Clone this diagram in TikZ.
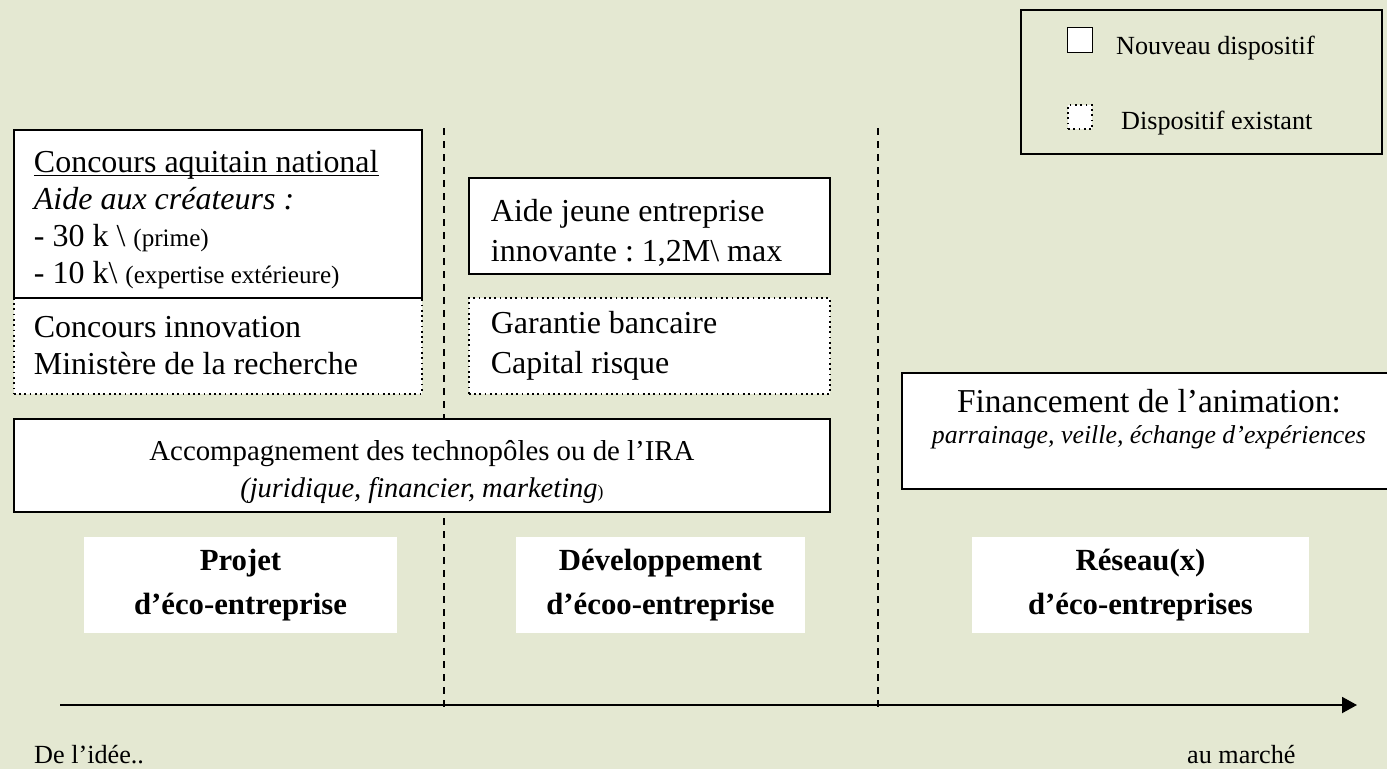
\documentclass[tikz,border=0pt]{standalone}
\usepackage{fontspec}
\setmainfont{Liberation Serif}
\usetikzlibrary{positioning, arrows.meta}
\definecolor{paper}{RGB}{228,232,210}
\newcommand{\boxtxt}{\fontsize{18.2}{21}\selectfont\frenchspacing}
\newcommand{\smalltxt}{\fontsize{14.3}{21}\selectfont}
\newcommand{\lowstrut}[1]{\rule[-#1]{0pt}{#1}}
\newcommand{\highstrut}[1]{\rule{0pt}{#1}}
\newcommand{\titleline}[1]{\setbox0\hbox{#1}\rlap{\rule[-2.2pt]{\wd0}{0.8pt}}\box0}

\begin{document}
\begin{tikzpicture}[x=0.02cm, y=-0.02cm]
  \tikzstyle{box}=[anchor=north west, fill=white, inner ysep=0, align=flush left, font=\boxtxt]
  \tikzstyle{new-box}=[box, draw, line width=1.1pt]
  \tikzstyle{old-box}=[box, draw, dotted, line width=1pt]
  \tikzstyle{phase}=[fill=white, align=flush center, minimum height=1.92cm, font=\fontsize{17.5}{25}\selectfont\bfseries]
  \tikzstyle{legend-txt}=[anchor=west, font=\fontsize{14.9}{18}\selectfont]
  \tikzstyle{step-line}=[line width=1pt, dash pattern=on 4pt off 3.4pt]

  % page and background
  \useasboundingbox (0,0) rectangle (1387,769);
  \fill [paper] (0,0) rectangle (1387,769);

  % phase separators
  \coordinate (sep-1-top) at (444,128);
  \coordinate (sep-1-bot) at (444,712);
  \coordinate (sep-2-top) at (878,128);
  \coordinate (sep-2-bot) at (878,712);
  \draw [step-line] (sep-1-top) -- (sep-1-bot);
  \draw [step-line] (sep-2-top) -- (sep-2-bot);

  % legend
  \node [draw, line width=1.1pt, anchor=north west, minimum width=7.22cm, minimum height=2.88cm] (legend) at (1020,9) {};
  \node [draw, fill=white, line width=1.1pt, minimum size=0.5cm, inner sep=0] (leg-new) at (1080,40) {};
  \node [draw, fill=white, dotted, line width=1pt, minimum size=0.48cm, inner sep=0] (leg-old) at (1080,117) {};
  \node [legend-txt] (leg-new-txt) at (1110,48) {Nouveau dispositif};
  \node [legend-txt] (leg-old-txt) at (1115,123) {Dispositif existant};

  % project phase
  \node [old-box, minimum width=8.16cm, minimum height=1.92cm, text width=7.36cm, inner xsep=0.4cm] (C-I) at (13,297)
    {Concours innovation\\Ministère de la recherche};
  \node [new-box, minimum width=8.16cm, minimum height=3.36cm, text width=7.36cm, inner xsep=0.4cm] (C-A) at (13,129)
    {\highstrut{0.66cm}\titleline{Concours aquitain national}\\
     \textit{Aide aux créateurs :}\\
     - 30 k \textbackslash{} {\smalltxt(prime)}\\
     - 10 k\textbackslash{} {\smalltxt(expertise extérieure)}};

  % development phase
  \node [new-box, minimum width=7.22cm, minimum height=1.92cm, text width=6.34cm, inner xsep=0.44cm, font=\boxtxt\linespread{1.07}\selectfont] (A-J) at (468,177)
    {\highstrut{0.72cm}Aide jeune entreprise\\innovante : 1,2M\textbackslash{} max};
  \node [old-box, minimum width=7.22cm, minimum height=1.92cm, text width=6.34cm, inner xsep=0.44cm, font=\boxtxt\linespread{1.07}\selectfont] (G-B) at (468,297)
    {Garantie bancaire\\Capital risque};

  % common support
  \node [new-box, align=flush center, minimum width=16.32cm, minimum height=1.86cm, text width=15.5cm, font=\fontsize{16.4}{21}\selectfont\frenchspacing] (A-T) at (13,418)
    {\highstrut{0.68cm}Accompagnement des technopôles ou de l’IRA\\
     {\fontsize{16.2}{21}\selectfont\textit{(juridique, financier, marketing}{\fontsize{10}{21}\selectfont)}}};

  % network phase
  \node [new-box, align=flush center, minimum width=9.88cm, minimum height=2.32cm, text width=9.4cm, inner xsep=0.24cm, font=\fontsize{19}{17.6}\selectfont\frenchspacing] (F-A) at (901,372)
    {Financement de l’animation:\\
     {\fontsize{14.7}{17.6}\selectfont\textit{parrainage, veille, échange d’expériences}}\lowstrut{0.58cm}};

  % phase titles
  \node [phase, minimum width=6.26cm] (P-1) at (240.5,585) {Projet\\d’éco-entreprise};
  \node [phase, minimum width=5.78cm] (P-2) at (660.5,585) {Développement\\d’écoo-entreprise};
  \node [phase, minimum width=6.74cm] (P-3) at (1140.5,585) {Réseau(x)\\d’éco-entreprises};

  % time axis
  \coordinate (t-start) at (60,705);
  \coordinate (t-end) at (1357,705);
  \draw [-{Triangle[length=0.3cm, width=0.32cm]}, line width=1.1pt] (t-start) -- (t-end);
  \node [legend-txt] (idea) at (28,755) {De l’idée..};
  \node [legend-txt] (market) at (1181,755) {au marché};
\end{tikzpicture}
\end{document}
